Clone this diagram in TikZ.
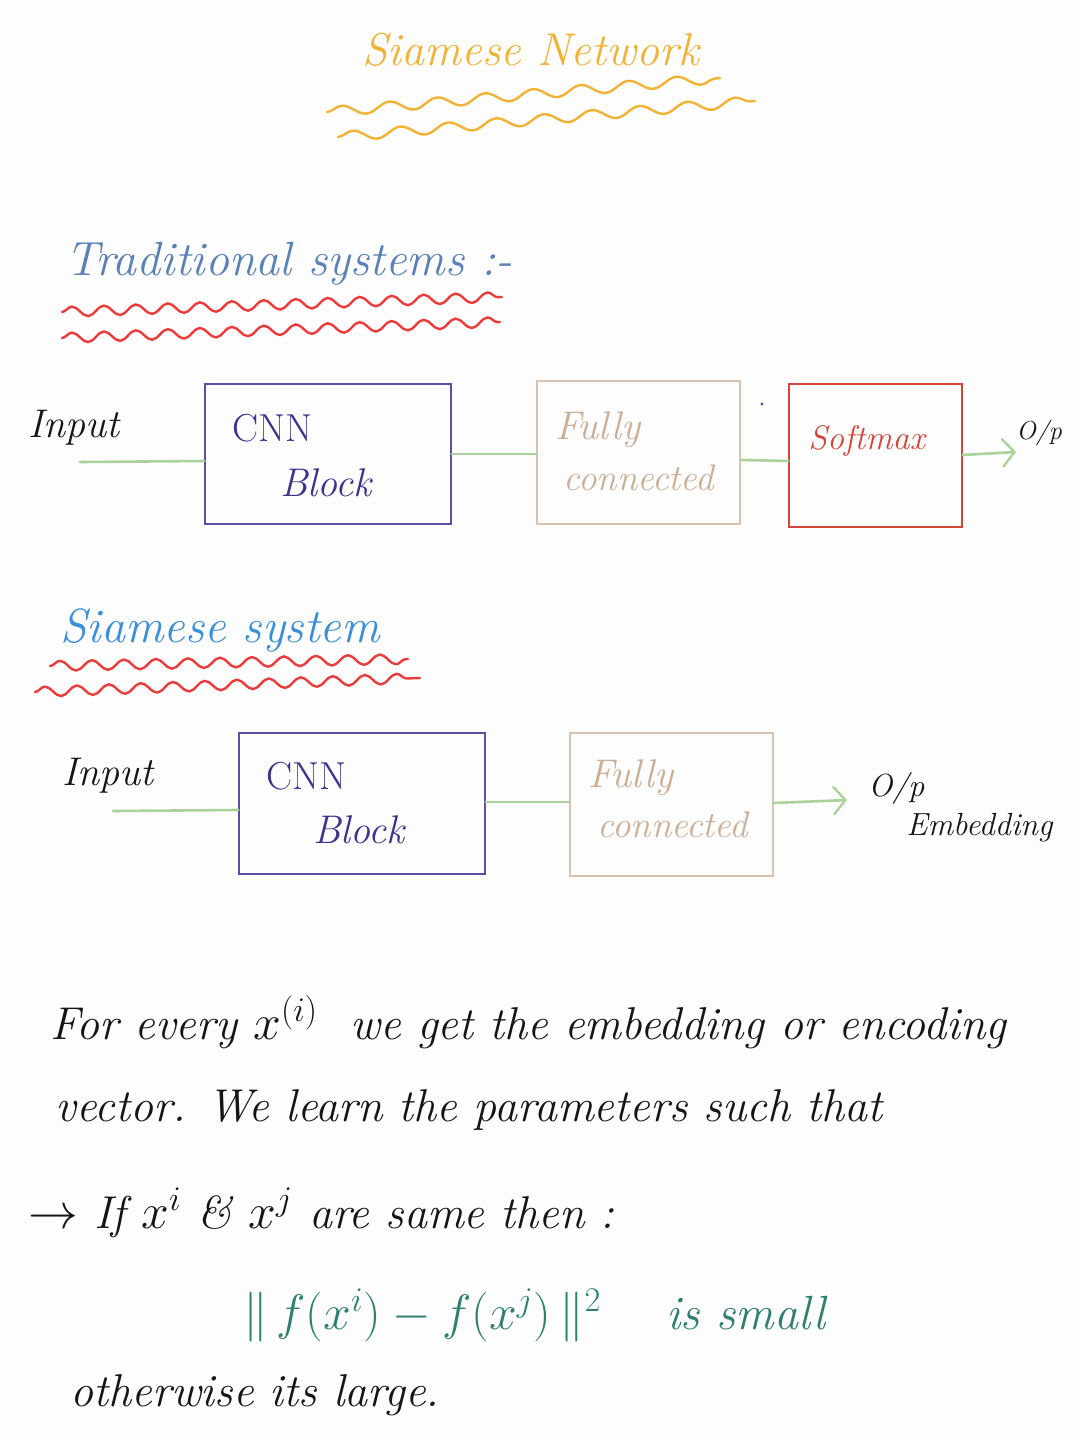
\documentclass[tikz,border=0pt]{standalone}
\usetikzlibrary{decorations.pathmorphing,arrows.meta}
\definecolor{titleor}{HTML}{F2B233}
\definecolor{tradblue}{HTML}{5A80B8}
\definecolor{siamblue}{HTML}{3A8FDB}
\definecolor{wavered}{HTML}{EC3B3B}
\definecolor{cnnborder}{HTML}{5B4DA8}
\definecolor{cnntext}{HTML}{3E3290}
\definecolor{fcborder}{HTML}{D9C2AE}
\definecolor{fctext}{HTML}{CBAE94}
\definecolor{smred}{HTML}{D4453A}
\definecolor{linkgreen}{HTML}{A9D39A}
\definecolor{teal}{HTML}{2F8072}
\definecolor{ink}{HTML}{151515}
\definecolor{bg}{HTML}{FDFDFD}
\tikzset{
  hw/.style={font=\itshape, inner sep=0pt, anchor=west, text=ink},
  boxlbl/.style={inner sep=0pt, anchor=west},
  blk/.style={draw, line width=0.6pt, inner sep=0pt},
  link/.style={draw=linkgreen, line width=1.3pt, line cap=round},
  linkarrow/.style={link, -{Straight Barb[length=6pt,width=14pt,line width=1.2pt]}},
  wavy/.style={line width=1.2pt, line cap=round, decorate, decoration={snake, amplitude=2.5pt, segment length=16pt}},
  softwavy/.style={line width=1.2pt, line cap=round, decorate, decoration={snake, amplitude=2.5pt, segment length=24pt}},
}
\begin{document}
\begin{tikzpicture}[x=0.5pt,y=-0.5pt]
\fill[bg] (0,0) rectangle (1080,1440);
\useasboundingbox (0,0) rectangle (1080,1440);

% Title
\node[hw, text=titleor, font=\itshape\fontsize{23}{25}\selectfont] (title) at (362,50) {Siamese Network};
\draw[softwavy, titleor] (327,112) -- (720,78);
\draw[softwavy, titleor] (338,137) -- (755,101);

% Traditional systems
\node[hw, text=tradblue, font=\itshape\fontsize{24}{26}\selectfont] (trad) at (65,264) {Traditional systems :-};
\draw[wavy, wavered] (62,312) -- (502,297);
\draw[wavy, wavered] (62,338) -- (500,322);

% Row 1 boxes
\node[blk, draw=cnnborder, minimum width=123pt, minimum height=70pt] (cnn1) at (328,454) {};
\node[blk, draw=fcborder, minimum width=101.5pt, minimum height=71.5pt] (fc1) at (638.5,452.5) {};
\node[blk, draw=smred, minimum width=86.5pt, minimum height=71.5pt] (sm) at (875.5,455.5) {};

\node[boxlbl, text=cnntext, font=\fontsize{19.5}{21}\selectfont] (cnn1a) at (232,428) {CNN};
\node[boxlbl, text=cnntext, font=\itshape\fontsize{20}{22}\selectfont] (cnn1b) at (280,483) {Block};
\node[boxlbl, text=fctext, font=\itshape\fontsize{20}{22}\selectfont] (fc1a) at (555,430) {Fully};
\node[boxlbl, text=fctext, font=\itshape\fontsize{18.5}{20}\selectfont] (fc1b) at (563,478) {connected};
\node[boxlbl, text=smred, font=\itshape\fontsize{17}{19}\selectfont] (smt) at (808,441) {Softmax};

\node[hw, font=\itshape\fontsize{20}{22}\selectfont] (in1) at (28,428) {Input};
\node[hw, font=\itshape\fontsize{13}{15}\selectfont] (op1) at (1016,433) {O/p};
\coordinate (in1s) at (80,462);
\coordinate (op1e) at (1016,452);

\draw[link] (in1s) -- (cnn1.west |- 0,461);
\draw[link] (cnn1.east |- 0,454) -- (fc1.west |- 0,454);
\draw[link] (fc1.east |- 0,460) -- (sm.west |- 0,461);
\draw[linkarrow] (sm.east |- 0,455) -- (op1e);
\fill[cnnborder] (762,404) circle (0.8pt);

% Siamese system
\node[hw, text=siamblue, font=\itshape\fontsize{24}{26}\selectfont] (siam) at (60,630) {Siamese system};
\draw[wavy, wavered] (50,666) -- (408,659);
\draw[wavy, wavered] (35,692) -- (420,678);

% Row 2
\node[blk, draw=cnnborder, minimum width=123pt, minimum height=70.5pt] (cnn2) at (362,803.5) {};
\node[blk, draw=fcborder, minimum width=101.5pt, minimum height=71.5pt] (fc2) at (671.5,804.5) {};

\node[boxlbl, text=cnntext, font=\fontsize{19.5}{21}\selectfont] (cnn2a) at (266,776) {CNN};
\node[boxlbl, text=cnntext, font=\itshape\fontsize{20}{22}\selectfont] (cnn2b) at (313,830) {Block};
\node[boxlbl, text=fctext, font=\itshape\fontsize{20}{22}\selectfont] (fc2a) at (588,778) {Fully};
\node[boxlbl, text=fctext, font=\itshape\fontsize{18.5}{20}\selectfont] (fc2b) at (597,825) {connected};

\node[hw, font=\itshape\fontsize{20}{22}\selectfont] (in2) at (62,776) {Input};
\node[hw, font=\itshape\fontsize{16}{18}\selectfont] (op2) at (868,788) {O/p};
\node[hw, font=\itshape\fontsize{16}{18}\selectfont] (emb) at (906,828) {Embedding};
\coordinate (in2s) at (113,811);
\coordinate (op2e) at (847,800);

\draw[link] (in2s) -- (cnn2.west |- 0,810);
\draw[link] (cnn2.east |- 0,802) -- (fc2.west |- 0,802);
\draw[linkarrow] (fc2.east |- 0,803) -- (op2e);

% Paragraph
\node[hw, font=\itshape\fontsize{23}{25}\selectfont] (p1) at (50,1022) {For every $x^{(i)}$ \ we get the embedding or encoding};
\node[hw, font=\itshape\fontsize{23}{25}\selectfont] (p2) at (55,1110) {vector. We learn the parameters such that};
\node[hw, font=\itshape\fontsize{23}{25}\selectfont] (p3) at (28,1213) {$\to$ If $x^i$ \& $x^j$ are same then :};
\node[hw, text=teal, font=\itshape\fontsize{24}{26}\selectfont] (p4) at (243,1315) {$\|\,f(x^i) - f(x^j)\,\|^2$ \quad is small};
\node[hw, font=\itshape\fontsize{23}{25}\selectfont] (p5) at (70,1395) {otherwise its large.};
\end{tikzpicture}
\end{document}
